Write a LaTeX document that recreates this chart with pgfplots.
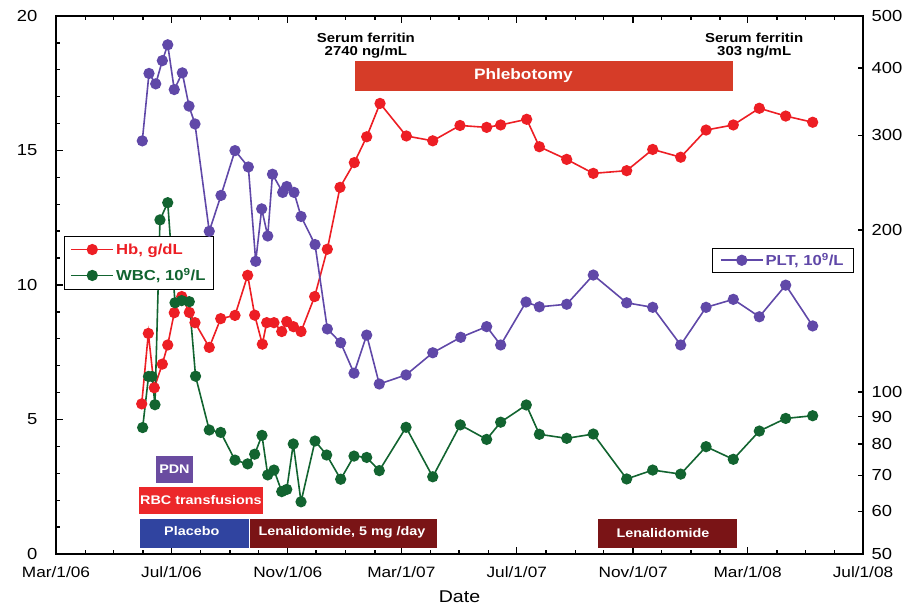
\documentclass[border=0pt]{standalone}
\usepackage{pgfplots}
\pgfplotsset{compat=1.18}
\usepackage{fontspec}
\setmainfont{Liberation Sans}[FakeStretch=1.15]
\definecolor{hbred}{RGB}{237,30,36}
\definecolor{wbcgreen}{RGB}{18,100,48}
\definecolor{pltpurple}{RGB}{96,72,168}
\definecolor{phlebo}{RGB}{214,60,40}
\definecolor{rbcred}{RGB}{236,40,42}
\definecolor{pdnpurple}{RGB}{106,76,160}
\definecolor{placeblue}{RGB}{48,68,160}
\definecolor{lenared}{RGB}{122,20,22}
\begin{document}
\begin{tikzpicture}
\begin{axis}[
  at={(0pt,0pt)}, anchor=south west,
  scale only axis, width=807pt, height=538pt,
  xmin=0, xmax=853, ymin=0, ymax=20,
  axis line style={line width=2.5pt},
  tick align=inside,
  tick style={black, line width=1.4pt},
  major tick length=7pt, minor tick length=4pt,
  xtick={0,122,245,365,487,610,731,853},
  xticklabels={Mar/1/06,Jul/1/06,Nov/1/06,Mar/1/07,Jul/1/07,Nov/1/07,Mar/1/08,Jul/1/08},
  minor xtick={31,61,92,153,184,214,275,306,337,396,426,457,518,549,579,640,671,702,762,792,823},
  xtick pos=both,
  ytick={0,5,10,15,20},
  yticklabels={0,5,10,15,20},
  minor ytick={1,2,3,4,6,7,8,9,11,12,13,14,16,17,18,19},
  ytick pos=left,
  xticklabel style={font=\fontsize{15}{17}\selectfont, yshift=-9pt},
  yticklabel style={font=\fontsize{16}{18}\selectfont, xshift=-15pt},
  xlabel={Date},
  xlabel style={at={(axis description cs:0.5,0)}, anchor=center, yshift=-43pt, font=\fontsize{17}{19}\selectfont},
  legend style={at={(rel axis cs:0.0099,0.591)}, anchor=north west, draw=black, line width=1pt,
    fill=white, font=\bfseries\fontsize{14.5}{16}\selectfont, row sep=9pt, inner xsep=6pt, inner ysep=5pt,
    cells={anchor=west}},
  legend image code/.code={\draw[mark repeat=2,mark phase=2] plot coordinates {(0pt,0pt)(21pt,0pt)(42pt,0pt)};},
  clip=false,
]
% annotation bars
\fill[phlebo] (axis cs:316,17.22) rectangle (axis cs:716,18.33);
\node[text=white, font=\bfseries\fontsize{15}{17}\selectfont] at (axis cs:494,17.78) {Phlebotomy};
\node[align=center, font=\bfseries\fontsize{13}{13}\selectfont, inner sep=0pt] at (axis cs:327.5,18.9) {Serum ferritin\\2740 ng/mL};
\node[align=center, font=\bfseries\fontsize{13}{13}\selectfont, inner sep=0pt] at (axis cs:738,18.9) {Serum ferritin\\303 ng/mL};
\fill[pdnpurple] (axis cs:105.4,2.63) rectangle (axis cs:145.1,3.65);
\node[text=white, font=\bfseries\fontsize{12.5}{14}\selectfont] at (axis cs:125.2,3.14) {PDN};
\fill[rbcred] (axis cs:88,1.48) rectangle (axis cs:218.5,2.49);
\node[text=white, font=\bfseries\fontsize{12.5}{14}\selectfont] at (axis cs:153.2,1.99) {RBC transfusions};
\fill[placeblue] (axis cs:88.8,0.22) rectangle (axis cs:204,1.29);
\node[text=white, font=\bfseries\fontsize{12.5}{14}\selectfont] at (axis cs:143.5,0.85) {Placebo};
\fill[lenared] (axis cs:205.1,0.22) rectangle (axis cs:402.7,1.29);
\node[text=white, font=\bfseries\fontsize{12.5}{14}\selectfont] at (axis cs:302.3,0.8) {Lenalidomide, 5 mg /day};
\fill[lenared] (axis cs:573.2,0.22) rectangle (axis cs:719.6,1.29);
\node[text=white, font=\bfseries\fontsize{12.5}{14}\selectfont] at (axis cs:641.6,0.78) {Lenalidomide};

\addplot[hbred, line width=1.6pt, mark=*, mark size=4.8pt] coordinates {
(90.6,5.58)(97.6,8.2)(103.9,6.18)(112.4,7.06)(118.1,7.77)(125.0,8.97)(132.9,9.57)(140.9,8.98)
(146.9,8.6)(162.0,7.68)(174.1,8.75)(189.2,8.87)(202.6,10.36)(210.0,8.88)(218.1,7.8)(222.7,8.6)
(230.4,8.6)(238.6,8.27)(243.9,8.64)(251.0,8.45)(259.0,8.27)(273.4,9.57)(286.8,11.33)(300.2,13.63)
(315.3,14.55)(328.4,15.51)(342.5,16.75)(370.3,15.54)(398.2,15.36)(427.0,15.93)(455.2,15.86)(470.0,15.95)
(497.5,16.16)(510.9,15.14)(539.8,14.67)(567.9,14.15)(603.2,14.25)(630.7,15.04)(660.3,14.75)(687.1,15.76)
(715.9,15.95)(743.4,16.57)(771.3,16.28)(799.8,16.05)};
\addlegendentry{\textcolor{hbred}{Hb, g/dL}}
\addplot[wbcgreen, line width=1.6pt, mark=*, mark size=4.8pt] coordinates {
(91.6,4.7)(97.8,6.6)(101.5,6.6)(104.6,5.55)(109.9,12.42)(118.1,13.06)(125.8,9.34)(132.9,9.42)
(140.9,9.38)(147.5,6.61)(162.0,4.61)(174.1,4.52)(189.2,3.49)(202.6,3.35)(210.0,3.71)(217.7,4.41)
(223.8,2.94)(230.4,3.12)(238.6,2.32)(243.9,2.40)(250.8,4.09)(259.0,1.94)(273.8,4.2)(286.1,3.68)
(300.9,2.78)(315.0,3.64)(328.4,3.59)(341.7,3.1)(370.0,4.71)(398.2,2.87)(427.3,4.8)(455.2,4.26)
(470.0,4.9)(497.1,5.54)(510.9,4.45)(539.8,4.3)(567.9,4.46)(603.2,2.79)(630.7,3.12)(660.3,2.97)
(687.1,3.99)(715.9,3.52)(743.4,4.57)(771.3,5.04)(799.8,5.14)};
\addlegendentry{\textcolor{wbcgreen}{WBC, 10\textsuperscript{9}/L}}
\end{axis}
\begin{axis}[
  at={(0pt,0pt)}, anchor=south west,
  scale only axis, width=807pt, height=538pt,
  xmin=0, xmax=853, ymode=log, ymin=50, ymax=500,
  hide x axis,
  axis y line*=right,
  axis line style={line width=2.5pt},
  tick align=inside,
  tick style={black, line width=1.4pt},
  major tick length=5pt,
  ytick={50,60,70,80,90,100,200,300,400,500},
  yticklabels={50,60,70,80,90,100,200,300,400,500},
  minor ytick={},
  yticklabel style={font=\fontsize{16}{18}\selectfont, xshift=5pt},
  legend style={at={(rel axis cs:0.989,0.569)}, anchor=north east, draw=black, line width=1pt,
    fill=white, font=\bfseries\fontsize{14.5}{16}\selectfont, inner xsep=8pt, inner ysep=3pt},
  legend image code/.code={\draw[mark repeat=2,mark phase=2] plot coordinates {(0pt,0pt)(21pt,0pt)(42pt,0pt)};},
]
\addplot[pltpurple, line width=1.6pt, mark=*, mark size=4.8pt] coordinates {
(91.2,293)(98.3,391)(105.4,374)(112.4,413)(118.1,442)(125.0,365)(133.5,392)(140.6,340)
(146.9,315)(162.0,199)(174.4,232)(189.2,281)(203.3,262)(211.1,175)(217.4,219)(223.8,195)
(228.8,254)(239.6,235)(243.9,241)(251.6,235)(259.0,212)(273.8,188)(286.8,131)(300.9,123.5)
(315.0,108.4)(328.4,127.6)(341.7,103.5)(370.0,107.6)(398.2,118.3)(427.8,126.4)(455.2,132.3)(470.0,122.3)
(496.8,147)(510.9,144)(539.8,145.6)(567.9,165)(603.2,146.5)(630.7,143.7)(660.3,122.3)(687.1,143.7)
(715.9,148.7)(743.4,138)(771.3,158)(799.8,132.7)};
\addlegendentry{\textcolor{pltpurple}{PLT, 10\textsuperscript{9}/L}}
\end{axis}
\pgfresetboundingbox
\path[use as bounding box] (-56pt,-51pt) rectangle (854pt,554pt);
\end{tikzpicture}
\end{document}
